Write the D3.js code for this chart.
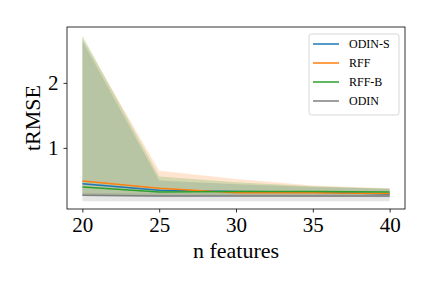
<!DOCTYPE html>
<html>
<head>
<meta charset="utf-8">
<script src="https://cdn.jsdelivr.net/npm/d3@7"></script>
<style>
  body { margin: 0; background: #fff; }
  svg text { font-family: "Liberation Serif", "DejaVu Serif", serif; fill: #000; }
</style>
</head>
<body>
<div id="chart"></div>
<script>
const nFeatures = [20, 25, 30, 35, 40]

// mean tRMSE and shaded band per method
const odinSMean = [0.45, 0.35, 0.33, 0.32, 0.29]
const odinSLo = [0.26, 0.25, 0.25, 0.25, 0.24]
const odinSHi = [2.65, 0.50, 0.44, 0.40, 0.37]

const rffMean = [0.49, 0.38, 0.31, 0.31, 0.30]
const rffLo = [0.27, 0.26, 0.26, 0.25, 0.25]
const rffHi = [2.69, 0.65, 0.52, 0.42, 0.38]

const rffBMean = [0.40, 0.32, 0.33, 0.33, 0.32]
const rffBLo = [0.27, 0.26, 0.26, 0.26, 0.26]
const rffBHi = [2.73, 0.56, 0.47, 0.41, 0.37]

const odinMean = [0.27, 0.26, 0.26, 0.26, 0.26]
const odinLo = [0.18, 0.18, 0.18, 0.18, 0.18]
const odinHi = [0.31, 0.30, 0.30, 0.30, 0.30]

const xTicks = [20, 25, 30, 35, 40]
const yTicks = [1, 2]

const series = [
  { name: 'ODIN-S', color: '#1f77b4', mean: odinSMean, lo: odinSLo, hi: odinSHi },
  { name: 'RFF', color: '#ff7f0e', mean: rffMean, lo: rffLo, hi: rffHi },
  { name: 'RFF-B', color: '#2ca02c', mean: rffBMean, lo: rffBLo, hi: rffBHi },
  { name: 'ODIN', color: '#7f7f7f', mean: odinMean, lo: odinLo, hi: odinHi },
]

const W = 432, H = 288
const m = { left: 67, right: 27, top: 27, bottom: 79 }

const svg = d3.select('#chart').append('svg')
  .attr('width', W).attr('height', H)

const x = d3.scaleLinear().domain([19, 41]).range([m.left, W - m.right])
const y = d3.scaleLinear().domain([0.06, 2.86]).range([H - m.bottom, m.top])

const area = d3.area()
  .x((d, i) => x(nFeatures[i]))
  .y0(d => y(d[0]))
  .y1(d => y(d[1]))

const line = d3.line()
  .x((d, i) => x(nFeatures[i]))
  .y(d => y(d))

// bands first, then lines, like fill_between drawn per method
series.forEach(s => {
  svg.append('path')
    .datum(s.lo.map((v, i) => [v, s.hi[i]]))
    .attr('d', area)
    .attr('fill', s.color)
    .attr('fill-opacity', 0.2)
})

series.forEach(s => {
  svg.append('path')
    .datum(s.mean)
    .attr('d', line)
    .attr('fill', 'none')
    .attr('stroke', s.color)
    .attr('stroke-width', 1.5)
})

// frame
svg.append('rect')
  .attr('x', m.left).attr('y', m.top)
  .attr('width', W - m.left - m.right).attr('height', H - m.top - m.bottom)
  .attr('fill', 'none').attr('stroke', '#000').attr('stroke-width', 0.8)

const xAxis = svg.append('g')
  .attr('transform', `translate(0,${H - m.bottom})`)
  .call(d3.axisBottom(x).tickValues(xTicks).tickFormat(d3.format('d')).tickSize(3.5).tickPadding(4))
const yAxis = svg.append('g')
  .attr('transform', `translate(${m.left},0)`)
  .call(d3.axisLeft(y).tickValues(yTicks).tickFormat(d3.format('d')).tickSize(3.5).tickPadding(5))

;[xAxis, yAxis].forEach(g => {
  g.select('.domain').remove()
  g.selectAll('line').attr('stroke', '#000').attr('stroke-width', 0.8)
  g.selectAll('text').attr('font-size', 21).style('font-family', '"Liberation Serif", serif').attr('fill', '#000')
})
xAxis.selectAll('text').attr('dy', '0.72em')

svg.append('text')
  .attr('x', (m.left + W - m.right) / 2).attr('y', 258)
  .attr('text-anchor', 'middle').attr('font-size', 22)
  .text('n features')

svg.append('text')
  .attr('transform', `translate(40,${(m.top + H - m.bottom) / 2}) rotate(-90)`)
  .attr('text-anchor', 'middle').attr('font-size', 22)
  .text('tRMSE')

// legend
const lg = svg.append('g').attr('transform', 'translate(309,34)')
lg.append('rect')
  .attr('width', 90).attr('height', 81).attr('rx', 2.5)
  .attr('fill', '#fff').attr('fill-opacity', 0.8)
  .attr('stroke', '#ccc').attr('stroke-width', 0.8)
series.forEach((s, i) => {
  const yy = 10 + i * 19
  lg.append('line')
    .attr('x1', 4).attr('x2', 30).attr('y1', yy).attr('y2', yy)
    .attr('stroke', s.color).attr('stroke-width', 1.5)
  lg.append('text')
    .attr('x', 40).attr('y', yy).attr('dy', '0.35em')
    .attr('font-size', 12)
    .text(s.name)
})
</script>
</body>
</html>
